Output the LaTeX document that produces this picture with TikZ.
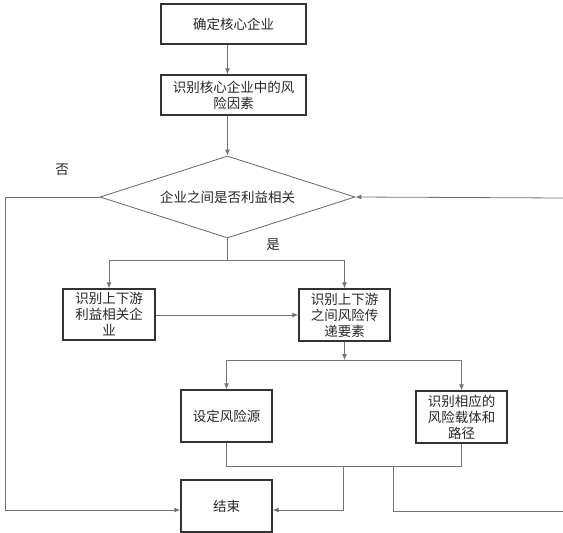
\documentclass[tikz,border=0pt]{standalone}
\usepackage{fontspec}
\newfontfamily\cjk{Noto Sans CJK SC}
\usetikzlibrary{shapes.geometric,arrows.meta}
\begin{document}
\begin{tikzpicture}[x=1pt,y=-1pt,
  box/.style={draw=black!80,line width=1.3pt,inner sep=0pt,align=center,
    font=\cjk\fontsize{13.5}{16}\selectfont,text=black!85},
  conn/.style={draw=black!55,line width=0.8pt},
  arr/.style={conn,-{Latex[length=6pt,width=5pt]}},
  lbl/.style={font=\cjk\fontsize{13.5}{16}\selectfont,text=black!85}]
\useasboundingbox (0,0) rectangle (563,533);
\node[box,minimum width=145pt,minimum height=40pt] (b1) at (233.5,24) {确定核心企业};
\node[box,minimum width=145pt,minimum height=40pt] (b2) at (233.5,95) {识别核心企业中的风\\险因素};
\node[draw=black!60,line width=0.8pt,shape=diamond,aspect=3.1,inner sep=0pt,
  minimum width=255pt,minimum height=82pt,font=\cjk\fontsize{13.5}{16}\selectfont,text=black!85]
  (dia) at (227.5,197) {企业之间是否利益相关};
\node[box,minimum width=92pt,minimum height=51pt] (b3) at (109,314.5) {识别上下游\\利益相关企\\业};
\node[box,minimum width=91pt,minimum height=52pt] (b4) at (344.5,315) {识别上下游\\之间风险传\\递要素};
\node[box,minimum width=91pt,minimum height=52pt] (b5) at (226.5,416) {设定风险源};
\node[box,minimum width=91pt,minimum height=52pt] (b6) at (461.5,417) {识别相应的\\风险载体和\\路径};
\node[box,minimum width=91pt,minimum height=52pt] (b7) at (226.5,506) {结束};
\node[lbl] (no) at (62,170) {否};
\node[lbl] (yes) at (273,245) {是};
% connectors
\draw[arr] (b1.south -| dia.north) -- (b2.north -| dia.north);
\draw[arr] (b2.south -| dia.north) -- (dia.north);
\coordinate (s1) at (227.5,260);
\draw[conn] (dia.south) -- (s1);
\draw[arr] (s1) -| (b3.north);
\draw[arr] (s1) -| (b4.north);
\draw[arr] (b3.east |- 0,315) -- (b4.west |- 0,315);
\coordinate (s2) at (344.5,360);
\draw[arr] (b4.south) -- (s2);
\draw[conn] (b5.north |- s2) -- (b6.north |- s2);
\draw[arr] (b5.north |- s2) -- (b5.north);
\draw[arr] (b6.north |- s2) -- (b6.north);
\coordinate (j1) at (226.5,466);
\draw[conn] (b5.south) -- (j1) -| (b6.south);
\coordinate (j2) at (343,466);
\coordinate (j3) at (393,466);
\coordinate (e1) at (563,511);
\draw[arr] (j2) -- (343,510) -- (b7.east |- 0,510);
\draw[conn] (j3) |- (e1);
\coordinate (lft) at (5,197);
\draw[arr] (dia.west) -- (lft) -- (5,510) -- (b7.west |- 0,510);
\coordinate (rgt) at (563,198);
\draw[arr] (rgt) -- (dia.east);
\end{tikzpicture}
\end{document}
